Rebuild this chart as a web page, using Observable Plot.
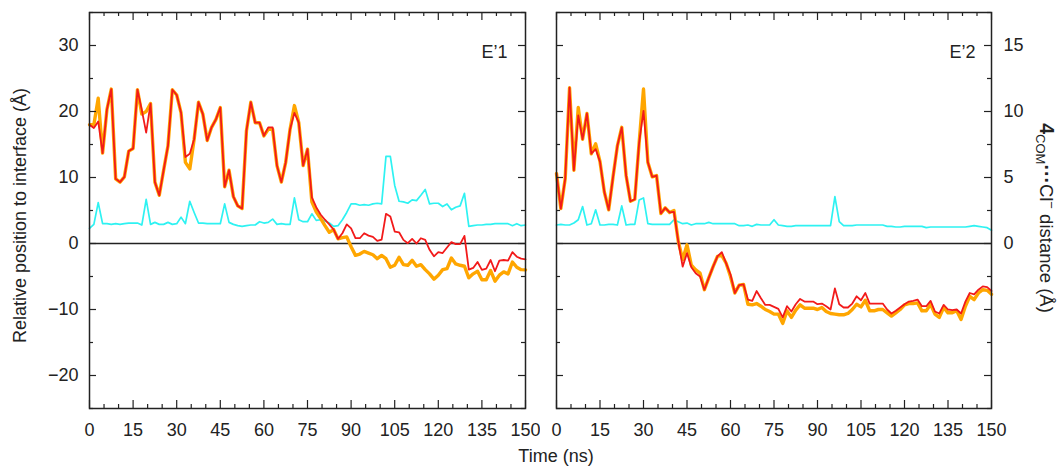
<!DOCTYPE html>
<html>
<head>
<meta charset="utf-8">
<script src="https://cdn.jsdelivr.net/npm/d3@7"></script>
<script src="https://cdn.jsdelivr.net/npm/@observablehq/plot@0.6"></script>
<style>
  body { margin: 0; background: #fff; }
  #wrap { position: relative; width: 1062px; height: 467px; overflow: hidden;
          font-family: "Liberation Sans", Arial, Helvetica, sans-serif; color: #222; }
  #left { position: absolute; left: 0; top: 0; }
  #right { position: absolute; left: 540px; top: 0; }
  #xtitle { position: absolute; left: 556px; top: 456px; transform: translate(-50%, -50%);
            font-size: 18px; white-space: nowrap; }
  #ytitle2 { position: absolute; left: 1046px; top: 218px; transform: translate(-50%, -50%) rotate(90deg);
             font-size: 18.5px; white-space: nowrap; }
  #ytitle2 b { font-size: 19.5px; }
  #ytitle2 sub { font-size: 13px; }
  #ytitle2 sup { font-size: 13px; }
</style>
</head>
<body>
<div id="wrap">
  <div id="left"></div>
  <div id="right"></div>
  <div id="xtitle">Time (ns)</div>
  <div id="ytitle2"><b>4</b><sub>COM</sub><b>···</b>Cl<sup>−</sup> distance (Å)</div>
</div>
<script>
// ---------------- data ----------------
const timeStep = 1.5; // ns between samples
const panelLabels = ["E’1", "E’2"];
const yTitle = "Relative position to interface (Å)";

const xTicks = [0, 15, 30, 45, 60, 75, 90, 105, 120, 135, 150];
const xMinorTicks = [5, 10, 20, 25, 35, 40, 50, 55, 65, 70, 80, 85, 95, 100, 110, 115, 125, 130, 140, 145];
const yTicks = [-20, -10, 0, 10, 20, 30];
const yMinorTicks = [-25, -15, -5, 5, 15, 25, 35];
const rightTicks = [0, 5, 10, 15];
const distToLeft = 2; // right-axis Å → left-axis units

// E'1
const e1Orange = [18.0, 18.0, 22.0, 13.7, 20.3, 23.4, 9.8, 9.3, 10.1, 14.0, 14.4, 23.3, 19.6, 20.0, 21.2, 9.3, 7.3, 11.1, 14.8, 23.3,
  22.5, 19.8, 12.3, 11.3, 15.8, 21.4, 19.6, 15.6, 17.6, 18.8, 20.6, 8.6, 11.1, 7.1, 5.7, 5.3, 17.1, 21.4, 18.3, 18.3,
  16.3, 17.3, 17.3, 11.8, 9.3, 12.3, 17.3, 20.9, 18.3, 11.8, 14.3, 6.3, 4.8, 3.8, 2.7, 1.7, 2.1, 0.7, 0.9, 1.0,
  -0.5, -1.8, -1.6, -1.2, -1.45, -1.7, -2.3, -1.8, -2.3, -3.6, -3.3, -2.1, -3.2, -3.3, -2.55, -3.45, -3.2, -3.96, -4.6, -5.4,
  -4.8, -3.96, -3.8, -2.2, -3.1, -3.3, -3.45, -5.2, -4.6, -4.2, -5.5, -5.5, -4.1, -5.7, -4.8, -4.3, -4.6, -2.8, -3.6, -3.96, -4.0];
const e1Red = [18.0, 17.5, 18.5, 13.7, 20.3, 23.4, 9.8, 9.3, 10.1, 14.0, 14.4, 23.3, 20.2, 16.8, 21.2, 9.3, 7.3, 11.1, 14.8, 23.3,
  22.5, 19.8, 13.1, 13.6, 15.8, 21.4, 19.6, 15.6, 17.6, 18.8, 20.6, 8.6, 11.1, 7.1, 5.7, 5.3, 17.1, 21.4, 18.3, 18.3,
  16.3, 17.6, 17.6, 11.8, 9.3, 12.3, 17.3, 19.8, 18.3, 11.8, 14.3, 7.0, 5.5, 4.4, 3.6, 2.9, 2.1, 0.7, 1.55, 2.9,
  2.3, 0.8, 0.8, 1.55, 1.2, 1.0, 0.4, 0.6, 4.5, 4.1, 1.8, 1.7, 0.55, 0.05, 0.7, 0.0, 0.8, 0.55, -0.95, -1.95,
  -1.3, -1.45, -0.6, 0.2, -0.1, -0.1, 1.15, -3.96, -3.7, -2.8, -4.0, -3.8, -2.5, -4.2, -2.6, -2.5, -2.6, -1.3, -2.0, -2.3, -2.4];
const e1Dist = [1.15, 1.45, 3.1, 1.5, 1.5, 1.45, 1.5, 1.45, 1.5, 1.55, 1.55, 1.55, 1.4, 3.35, 1.45, 1.6, 1.45, 1.45, 1.6, 1.45,
  1.5, 2.0, 1.5, 3.2, 2.35, 1.55, 1.55, 1.5, 1.5, 1.5, 1.5, 3.0, 1.6, 1.45, 1.35, 1.3, 1.35, 1.4, 1.4, 1.65,
  1.55, 1.6, 1.85, 1.45, 1.5, 1.45, 1.45, 3.45, 1.8, 1.65, 1.65, 2.25, 1.75, 1.8, 1.7, 1.55, 1.3, 1.35, 1.8, 2.35,
  3.0, 3.0, 2.9, 2.95, 2.9, 3.0, 3.05, 3.0, 6.6, 6.6, 4.4, 3.2, 3.15, 3.05, 3.3, 3.25, 3.65, 4.1, 3.0, 3.05,
  3.05, 2.8, 3.0, 2.55, 2.75, 2.85, 3.8, 1.3, 1.35, 1.4, 1.4, 1.45, 1.45, 1.5, 1.5, 1.5, 1.5, 1.35, 1.5, 1.35, 1.4];

// E'2
const e2Orange = [10.6, 5.3, 9.8, 23.6, 11.1, 20.6, 15.8, 19.7, 13.6, 15.1, 12.4, 7.8, 5.1, 10.1, 14.8, 17.6, 10.3, 6.4, 6.7, 15.3,
  23.4, 12.3, 10.1, 10.3, 4.55, 5.4, 4.7, 5.0, 0.3, -2.45, -0.2, -3.3, -4.0, -4.5, -7.0, -5.2, -3.5, -1.95, -1.8, -3.0,
  -5.0, -7.5, -6.3, -6.2, -9.2, -9.3, -9.1, -9.5, -10.0, -10.3, -10.7, -10.7, -12.1, -10.2, -11.2, -10.1, -9.3, -9.8, -9.8, -9.8,
  -10.0, -9.7, -10.3, -10.6, -10.7, -10.8, -10.8, -10.6, -10.0, -9.2, -9.6, -8.6, -10.2, -10.2, -10.0, -10.0, -10.5, -11.0, -10.5, -10.0,
  -9.3, -9.1, -9.1, -9.0, -10.2, -10.2, -9.2, -10.7, -11.2, -9.7, -10.5, -10.5, -10.2, -11.5, -9.5, -8.0, -8.5, -7.5, -7.0, -7.1, -7.7];
const e2Red = [10.6, 5.3, 9.8, 23.6, 11.1, 19.4, 15.8, 19.7, 13.6, 14.3, 12.4, 7.8, 5.1, 10.1, 14.8, 17.6, 10.3, 6.4, 6.7, 15.3,
  20.1, 12.3, 10.1, 10.3, 4.55, 5.4, 4.7, 4.8, 0.3, -3.5, -1.45, -3.6, -4.5, -5.0, -7.0, -5.2, -3.5, -1.95, -1.3, -3.0,
  -4.7, -7.5, -6.3, -6.2, -8.5, -8.7, -7.2, -8.3, -9.3, -9.3, -9.6, -9.9, -11.2, -9.5, -10.3, -9.2, -8.4, -8.8, -8.8, -8.8,
  -9.2, -9.1, -9.5, -10.0, -6.8, -9.2, -9.7, -9.7, -9.1, -8.0, -8.6, -7.5, -9.1, -9.1, -9.1, -9.1, -10.0, -10.6, -10.2, -9.7,
  -9.2, -8.8, -8.7, -8.5, -9.5, -9.5, -8.7, -10.3, -10.6, -9.3, -10.0, -10.1, -10.0, -10.6, -8.8, -7.5, -7.7, -7.0, -6.5, -6.6, -7.2];
const e2Dist = [1.4, 1.45, 1.4, 1.4, 1.55, 1.8, 2.8, 1.4, 1.5, 2.55, 1.4, 1.4, 1.45, 1.45, 1.4, 2.85, 1.4, 1.45, 1.45, 3.3,
  3.45, 1.5, 1.45, 1.45, 1.45, 1.45, 1.45, 1.8, 1.65, 1.5, 1.55, 1.4, 1.5, 1.5, 1.5, 1.6, 1.5, 1.5, 1.5, 1.5,
  1.5, 1.5, 1.35, 1.35, 1.4, 1.3, 1.45, 1.4, 1.4, 1.4, 1.8, 1.4, 1.35, 1.3, 1.3, 1.35, 1.35, 1.35, 1.35, 1.35,
  1.35, 1.35, 1.35, 1.35, 3.55, 1.65, 1.35, 1.35, 1.35, 1.4, 1.4, 1.4, 1.4, 1.4, 1.4, 1.4, 1.3, 1.3, 1.25, 1.25,
  1.3, 1.3, 1.3, 1.3, 1.3, 1.2, 1.25, 1.25, 1.25, 1.25, 1.25, 1.25, 1.25, 1.25, 1.25, 1.3, 1.35, 1.3, 1.25, 1.2, 1.0];

// ---------------- drawing ----------------
const H = 467, marginTop = 12, marginBottom = 59;
const innerH = H - marginTop - marginBottom;
const ink = "#222";
const fontFamily = "'Liberation Sans', Arial, Helvetica, sans-serif";
const minus = d => (d < 0 ? "\u2212" + Math.abs(d) : String(d));
const rows = arr => arr.map((v, i) => ({t: i * timeStep, v}));

function panel({orange, red, dist, label, width, marginLeft, marginRight, side, labelDx}) {
  const innerW = width - marginLeft - marginRight;
  const marks = [
    Plot.ruleY([0], {stroke: ink, strokeWidth: 1.4}),
    Plot.line(rows(dist), {x: "t", y: d => d.v * distToLeft, stroke: "#2ef2f2", strokeWidth: 1.7}),
    Plot.line(rows(orange), {x: "t", y: "v", stroke: "#ffa600", strokeWidth: 3.4, strokeLinejoin: "round"}),
    Plot.line(rows(red), {x: "t", y: "v", stroke: "#f21a1a", strokeWidth: 1.8, strokeLinejoin: "round"}),
    // inward ticks on all four sides
    Plot.tickX(xTicks, {x: d => d, insetTop: innerH - 8, stroke: ink, strokeWidth: 1.2}),
    Plot.tickX(xTicks, {x: d => d, insetBottom: innerH - 8, stroke: ink, strokeWidth: 1.2}),
    Plot.tickX(xMinorTicks, {x: d => d, insetTop: innerH - 4, stroke: ink, strokeWidth: 1.2}),
    Plot.tickX(xMinorTicks, {x: d => d, insetBottom: innerH - 4, stroke: ink, strokeWidth: 1.2}),
    Plot.tickY(yTicks, {y: d => d, insetRight: innerW - 7, stroke: ink, strokeWidth: 1.2}),
    Plot.tickY(yTicks, {y: d => d, insetLeft: innerW - 7, stroke: ink, strokeWidth: 1.2}),
    Plot.tickY(yMinorTicks, {y: d => d, insetRight: innerW - 4, stroke: ink, strokeWidth: 1.2}),
    Plot.tickY(yMinorTicks, {y: d => d, insetLeft: innerW - 4, stroke: ink, strokeWidth: 1.2}),
    Plot.frame({stroke: ink, strokeWidth: 1.5}),
    Plot.axisX(xTicks, {tickSize: 0, tickPadding: 15, tickFormat: d => String(d), label: null}),
    Plot.text([label], {text: d => d, frameAnchor: "top-right", dx: labelDx, dy: 40, textAnchor: "end",
      lineAnchor: "middle", fontSize: 18, fill: ink})
  ];
  if (side === "left") {
    marks.push(Plot.axisY(yTicks, {anchor: "left", tickSize: 0, tickPadding: 11, tickFormat: minus, label: null}));
    marks.push(Plot.text([yTitle], {text: d => d, frameAnchor: "left", textAnchor: "middle", lineAnchor: "middle",
      rotate: -90, dx: -69, dy: 5, fontSize: 18, fill: ink}));
  } else {
    marks.push(Plot.axisY(rightTicks.map(v => v * distToLeft), {anchor: "right", tickSize: 0, tickPadding: 12,
      tickFormat: v => String(v / distToLeft), label: null}));
  }
  return Plot.plot({
    width, height: H, marginTop, marginBottom, marginLeft, marginRight,
    x: {domain: [0, 150]},
    y: {domain: [-25, 35]},
    style: {fontFamily, fontSize: "18px", color: ink, background: "transparent"},
    marks
  });
}

document.getElementById("left").append(panel({
  orange: e1Orange, red: e1Red, dist: e1Dist, label: panelLabels[0],
  width: 540, marginLeft: 89, marginRight: 15, side: "left", labelDx: -18
}));
document.getElementById("right").append(panel({
  orange: e2Orange, red: e2Red, dist: e2Dist, label: panelLabels[1],
  width: 522, marginLeft: 16, marginRight: 71, side: "right", labelDx: -16
}));
</script>
</body>
</html>
